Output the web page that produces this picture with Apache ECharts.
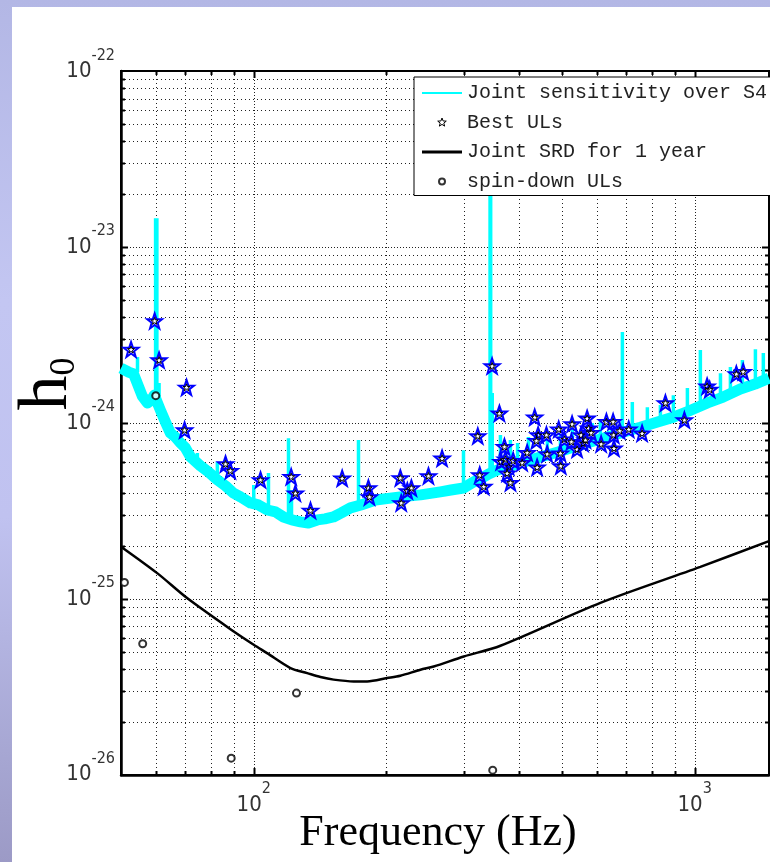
<!DOCTYPE html>
<html><head><meta charset="utf-8">
<script src="https://cdn.jsdelivr.net/npm/echarts@6/dist/echarts.min.js"></script>
<style>
html,body{margin:0;padding:0;width:770px;height:862px;overflow:hidden;
 background:linear-gradient(to bottom,#b3b7e5 0%,#c3c6f2 35%,#c0c2f0 60%,#a6a6d2 88%,#9c9ac6 100%);}
#chart{position:absolute;left:12px;top:7px;width:758px;height:855px;background:#fff;}
</style></head><body><div id="chart"></div>
<script>
// ---------- data ----------
const xGridFreqs = [60,70,80,90,100,200,300,400,500,600,700,800,900,1000];
const xMajorFreqs = [100,1000];
const yDecades = [-26,-25,-24,-23];
const yMinorMult = [2,3,4,5,6,7,8,9];

const sensFreq = [50,52.0,53.4,55.9,57.4,58.6,59.5,61.4,63.1,64.7,66.4,68.2,70.0,71.9,75.7,78.9,82.7,86.3,89.9,93.3,98.3,102.5,107.4,112,116.8,122,127.6,133,139.4,145,151.6,158,165.7,175,189,215,239,265,280,299,315,332,341,357,376,410,447,490,531,580,634,690,753,820,895,970,1069,1160,1269,1370,1474];
const sensH = [2.05e-24,1.95e-24,1.90e-24,1.42e-24,1.30e-24,1.35e-24,1.44e-24,1.185e-24,1.01e-24,8.77e-25,8.33e-25,7.70e-25,7.21e-25,6.41e-25,5.70e-25,5.27e-25,4.75e-25,4.39e-25,4.00e-25,3.80e-25,3.51e-25,3.42e-25,3.20e-25,3.12e-25,2.92e-25,2.81e-25,2.74e-25,2.70e-25,2.81e-25,2.85e-25,2.92e-25,3.08e-25,3.29e-25,3.42e-25,3.65e-25,3.80e-25,3.90e-25,4.06e-25,4.16e-25,4.27e-25,4.62e-25,4.93e-25,5.13e-25,5.41e-25,5.62e-25,6.00e-25,6.41e-25,6.84e-25,7.31e-25,7.80e-25,8.33e-25,8.89e-25,9.45e-25,1.01e-24,1.08e-24,1.17e-24,1.30e-24,1.405e-24,1.56e-24,1.665e-24,1.80e-24];

const spikeFreq = [54.5,59.9,60.3,61.0,74.5,82.7,100,108,119.9,121.8,172.8,299,343.5,344.6,347.5,362.6,382,396.6,419.7,463.4,496,528,586,611,685.5,722,781,836,894.6,962.6,1030,1144,1205,1283,1373,1431];
const spikeLow  = [1.95e-24,1.4e-24,1.4e-24,1.2e-24,6.1e-25,4.75e-25,3.5e-25,3.2e-25,2.9e-25,2.85e-25,3.4e-25,4.27e-25,5.1e-25,5.1e-25,5.0e-25,5.35e-25,5.55e-25,5.7e-25,5.9e-25,6.5e-25,6.9e-25,7.2e-25,7.8e-25,8.0e-25,8.9e-25,9.1e-25,9.7e-25,1.03e-24,1.07e-24,1.14e-24,1.22e-24,1.37e-24,1.44e-24,1.55e-24,1.64e-24,1.71e-24];
const spikeHigh = [2.37e-24,1.46e-23,1.46e-23,1.69e-24,6.75e-25,6.0e-25,4.44e-25,5.2e-25,8.2e-25,4.16e-25,8.0e-25,7.0e-25,1.97e-23,1.97e-23,1.48e-24,8.55e-25,8.0e-25,7.7e-25,8.33e-25,8.89e-25,9.49e-25,1.04e-24,1.0e-24,1.02e-24,3.29e-24,1.316e-24,1.23e-24,1.265e-24,1.44e-24,1.58e-24,2.6e-24,1.92e-24,2.08e-24,2.28e-24,2.63e-24,2.50e-24];

const ulFreq = [52.7,59.6,61.0,70.4,69.7,86.3,88.5,103.6,121.6,124.3,134.5,158.7,182,183,215,216,223,227.8,249,267.4,322.2,325.5,332.3,347.2,360.7,370.3,363.9,372.2,378.7,375.5,382.1,387.5,406.1,416.9,433.7,441.5,437.5,439.2,461.1,462.8,491.6,496,497,506.4,527.2,525.3,541.2,552.6,558.4,570.2,575,582.3,565.2,613.5,630.7,653.1,655.1,656,676,708.6,759.8,858.3,947.6,1067,1081.5,1243,1288];
const ulH = [2.62e-24,3.81e-24,2.28e-24,1.595e-24,9.12e-25,5.85e-25,5.36e-25,4.75e-25,4.95e-25,3.99e-25,3.18e-25,4.85e-25,4.27e-25,3.80e-25,4.87e-25,3.51e-25,4.11e-25,4.27e-25,5.0e-25,6.30e-25,8.44e-25,5.06e-25,4.35e-25,2.11e-24,1.135e-24,7.33e-25,6.03e-25,6.22e-25,5.64e-25,5.18e-25,4.58e-25,6.11e-25,5.95e-25,6.78e-25,1.078e-24,8.55e-25,7.93e-25,5.60e-25,8.55e-25,6.67e-25,9.21e-25,6.73e-25,5.70e-25,8.08e-25,9.87e-25,7.83e-25,7.09e-25,8.55e-25,7.67e-25,1.063e-24,9.33e-25,8.81e-25,8.0e-25,7.60e-25,1.017e-24,1.017e-24,8.55e-25,7.18e-25,9.04e-25,9.21e-25,8.74e-25,1.30e-24,1.04e-24,1.62e-24,1.55e-24,1.90e-24,1.96e-24];

const srdFreq = [50,60.4,70.6,90.1,100,107.2,121.1,132.2,141.7,151.8,168.6,180.8,200.7,215,238.8,255.9,299.4,362.6,611.1,1030,1474];
const srdH = [1.98e-25,1.40e-25,1.01e-25,6.52e-26,5.48e-26,4.91e-26,4.04e-26,3.78e-26,3.59e-26,3.47e-26,3.39e-26,3.39e-26,3.54e-26,3.65e-26,3.95e-26,4.12e-26,4.70e-26,5.41e-26,9.49e-26,1.52e-25,2.13e-25];

const sdFreq = [50.9,56.0,59.95,88.9,125,348.3];
const sdH = [1.24e-25,5.55e-26,1.43e-24,1.24e-26,2.91e-26,1.06e-26];

const legendNames = ['Joint sensitivity over S4','Best ULs','Joint SRD for 1 year','spin-down ULs'];
const xName = 'Frequency (Hz)';

// ---------- chart ----------
const X_MIN = 50, X_MAX = 1474, Y_MIN = 0.995e-26, Y_MAX = 1.005e-22;
const NARROW = "'Liberation Sans Narrow','DejaVu Sans Condensed','Arial Narrow','Liberation Sans',sans-serif";
const MONO = "'Liberation Mono','DejaVu Sans Mono',monospace";
const SERIF = "'Liberation Serif','Times New Roman',serif";

function zip(a,b){return a.map((v,i)=>[v,b[i]]);}
function starPath(cx,cy,R,r){let s='';for(let i=0;i<10;i++){const a=-Math.PI/2+i*Math.PI/5;const rad=i%2?r:R;s+=(i?'L':'M')+(cx+rad*Math.cos(a)).toFixed(2)+' '+(cy+rad*Math.sin(a)).toFixed(2);}return s+'Z';}

const spikeData=[];
spikeFreq.forEach((f,i)=>{spikeData.push([f,spikeLow[i]],[f,spikeHigh[i]],[f,'-']);});

const yGridVals=[];
yDecades.forEach(d=>{ if(d>-26) yGridVals.push(Math.pow(10,d)); yMinorMult.forEach(m=>yGridVals.push(m*Math.pow(10,d))); });

const isPow10 = v => Math.abs(Math.log10(v)-Math.round(Math.log10(v)))<1e-6;
const labelFmt = v => isPow10(v) ? '{b|10}{s|'+Math.round(Math.log10(v))+'}' : '';
const labelRich = {
  b:{fontFamily:NARROW,fontSize:22,color:'#333',padding:[12,0,0,0]},
  s:{fontFamily:NARROW,fontSize:16,color:'#333',padding:[0,0,20,0]}
};

function renderXGrid(params, api){
  const v = api.value(0), cs = params.coordSys;
  const px = Math.round(api.coord([v, Y_MIN])[0]) + 0.5;
  const major = xMajorFreqs.indexOf(v) >= 0;
  const tl = major ? 7 : 4;
  return {type:'group',children:[
    {type:'line',shape:{x1:px,y1:cs.y,x2:px,y2:cs.y+cs.height},style:{stroke:'#222',lineWidth:1,lineDash:major?[1,2]:[1,3]}},
    {type:'line',shape:{x1:px,y1:cs.y+cs.height,x2:px,y2:cs.y+cs.height-tl},style:{stroke:'#000',lineWidth:2}},
    {type:'line',shape:{x1:px,y1:cs.y,x2:px,y2:cs.y+tl},style:{stroke:'#000',lineWidth:2}}
  ]};
}
function renderYGrid(params, api){
  const v = api.value(1), cs = params.coordSys;
  const py = Math.round(api.coord([X_MIN, v])[1]) + 0.5;
  const major = isPow10(v);
  const tl = major ? 7 : 4;
  return {type:'group',children:[
    {type:'line',shape:{x1:cs.x,y1:py,x2:cs.x+cs.width,y2:py},style:{stroke:'#222',lineWidth:1,lineDash:major?[1,2]:[1,3]}},
    {type:'line',shape:{x1:cs.x,y1:py,x2:cs.x+tl,y2:py},style:{stroke:'#000',lineWidth:2}},
    {type:'line',shape:{x1:cs.x+cs.width,y1:py,x2:cs.x+cs.width-tl,y2:py},style:{stroke:'#000',lineWidth:2}}
  ]};
}

const BOX = 'M0 0M40 14';
const option = {
  animation:false,
  backgroundColor:'#fff',
  grid:{left:109,top:64,width:648,height:704,show:true,borderColor:'#000',borderWidth:2,backgroundColor:'#fff',containLabel:false,outerBoundsMode:'none'},
  legend:{
    left:402, top:70, orient:'vertical',
    backgroundColor:'#fff', borderColor:'#000', borderWidth:1, borderRadius:0,
    padding:[5,4,3,7], itemWidth:40, itemHeight:14, itemGap:7.5,
    textStyle:{fontFamily:MONO,fontSize:20,color:'#222',lineHeight:22},
    selectedMode:false,
    data:[
      {name:legendNames[0], icon:'path://'+BOX+'M0 6L40 6L40 8L0 8Z', itemStyle:{color:'#00ffff',borderWidth:0}},
      {name:legendNames[1], icon:'path://'+BOX+starPath(20,7,4.5,1.9), itemStyle:{color:'#fff',borderColor:'#000',borderWidth:1}},
      {name:legendNames[2], icon:'path://'+BOX+'M0 5.5L40 5.5L40 8.5L0 8.5Z', itemStyle:{color:'#000',borderWidth:0}},
      {name:legendNames[3], icon:'path://'+BOX+'M23 7A3 3 0 1 1 17 7A3 3 0 1 1 23 7Z', itemStyle:{color:'#fff',borderColor:'#000',borderWidth:2}}
    ]
  },
  xAxis:{
    type:'log', logBase:10, min:X_MIN, max:X_MAX,
    axisLine:{show:true,lineStyle:{color:'#000',width:2.5}},
    axisTick:{show:false}, splitLine:{show:false}, minorTick:{show:false},
    axisLabel:{formatter:labelFmt, rich:labelRich, margin:6, showMinLabel:true, showMaxLabel:true, hideOverlap:false},
    name:xName, nameLocation:'middle', nameGap:36, nameMoveOverlap:false,
    nameTextStyle:{fontFamily:SERIF,fontSize:44,color:'#000',padding:[0,14,0,0]}
  },
  yAxis:{
    type:'log', logBase:10, min:Y_MIN, max:Y_MAX,
    axisLine:{show:true,lineStyle:{color:'#000',width:2.5}},
    axisTick:{show:false}, splitLine:{show:false}, minorTick:{show:false},
    axisLabel:{formatter:labelFmt, rich:labelRich, margin:6, padding:[0,0,12,0], showMinLabel:true, showMaxLabel:true, hideOverlap:false},
    name:'{h|h}{s|0}', nameLocation:'middle', nameGap:38, nameRotate:90, nameMoveOverlap:false,
    nameTextStyle:{padding:[0,0,0,78],rich:{
      h:{fontFamily:SERIF,fontSize:70,color:'#000',verticalAlign:'bottom'},
      s:{fontFamily:SERIF,fontSize:36,color:'#000',verticalAlign:'bottom'}
    }}
  },
  series:[
    {type:'custom',name:'xgrid',silent:true,z:1,renderItem:renderXGrid,data:xGridFreqs.map(v=>[v,Y_MIN]),encode:{x:0,y:1}},
    {type:'custom',name:'ygrid',silent:true,z:1,renderItem:renderYGrid,data:yGridVals.map(v=>[X_MIN,v]),encode:{x:0,y:1}},
    {type:'line',name:legendNames[0],data:zip(sensFreq,sensH),symbol:'none',showSymbol:false,z:3,
      lineStyle:{color:'#00ffff',width:11,join:'round'},itemStyle:{color:'#00ffff'}},
    {type:'line',name:legendNames[0],data:spikeData,symbol:'none',showSymbol:false,z:3,connectNulls:false,
      lineStyle:{color:'#00ffff',width:3.5},itemStyle:{color:'#00ffff'}},
    {type:'scatter',name:legendNames[1],data:zip(ulFreq,ulH),symbol:'path://'+starPath(0,0,10,4),symbolSize:15,z:4,
      itemStyle:{color:'#ffffff',borderColor:'#0000ff',borderWidth:2,opacity:1}},
    {type:'scatter',name:legendNames[1],data:zip(ulFreq,ulH),symbol:'path://'+starPath(0,0,10,4),symbolSize:7,z:5,
      itemStyle:{color:'rgba(0,0,0,0)',borderColor:'#000',borderWidth:1,opacity:1}},
    {type:'line',name:legendNames[2],data:zip(srdFreq,srdH),smooth:0.3,symbol:'none',showSymbol:false,z:6,
      lineStyle:{color:'#000',width:2.5},itemStyle:{color:'#000'}},
    {type:'scatter',name:legendNames[3],data:zip(sdFreq,sdH),symbol:'emptyCircle',symbolSize:7,z:7,
      itemStyle:{color:'#000',borderColor:'#000',borderWidth:2}}
  ]
};
const chart = echarts.init(document.getElementById('chart'));
chart.setOption(option);
</script></body></html>
